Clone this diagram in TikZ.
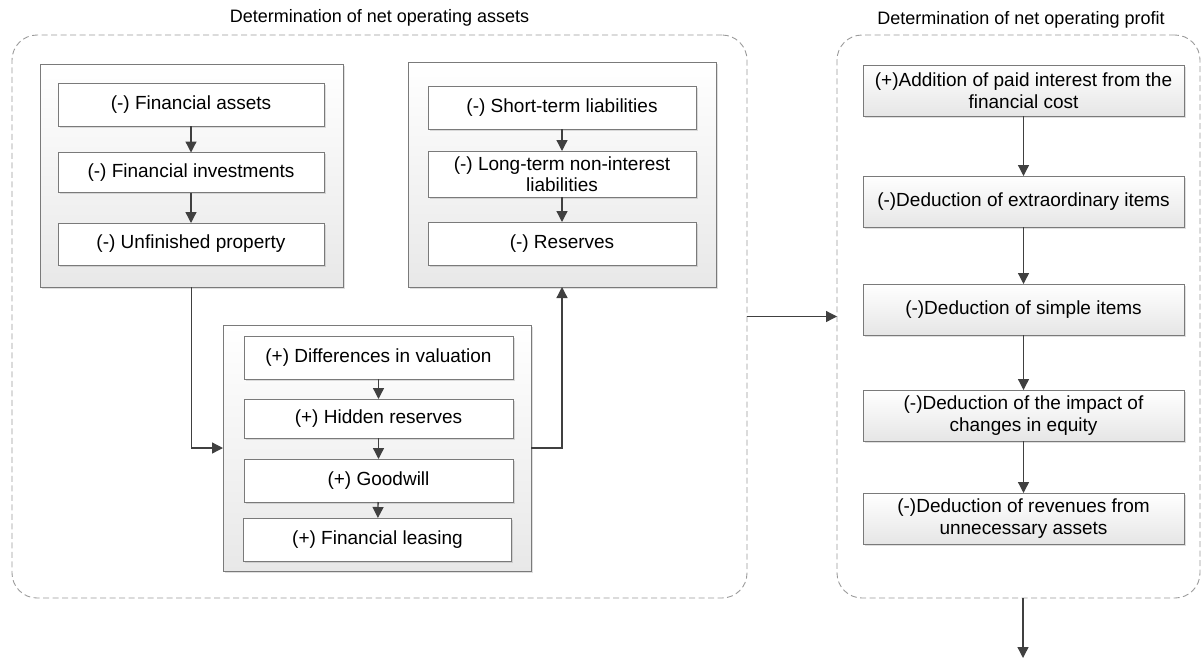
\documentclass[tikz,border=0pt]{standalone}
\usepackage{fontspec}
\setmainfont{Liberation Sans}
\usetikzlibrary{arrows.meta,shadows}
\definecolor{linec}{HTML}{404040}
\definecolor{borderc}{HTML}{7A7A7A}
\definecolor{dashc}{HTML}{9A9A9A}
\begin{document}
\begin{tikzpicture}[x=1pt,y=-1pt,
  every node/.style={inner sep=0pt, outer sep=0pt},
  txt/.style={font=\fontsize{19}{21.5}\selectfont, align=center, text=black},
  ttl/.style={font=\fontsize{18}{20}\selectfont, text=black},
  grp/.style={draw=borderc, line width=0.9pt, top color=white, bottom color=black!9,
    drop shadow={opacity=0.25, shadow xshift=1.5pt, shadow yshift=-1.5pt}},
  ibox/.style={txt, draw=borderc, line width=0.9pt, fill=white,
    drop shadow={opacity=0.25, shadow xshift=1.5pt, shadow yshift=-1.5pt}},
  rbox/.style={txt, draw=borderc, line width=0.9pt, top color=white, bottom color=black!10,
    minimum width=321pt, minimum height=51pt,
    drop shadow={opacity=0.25, shadow xshift=1.5pt, shadow yshift=-1.5pt}},
  dbox/.style={draw=dashc, line width=0.9pt, dash pattern=on 6pt off 3.5pt, rounded corners=25pt},
  arr/.style={draw=linec, line width=1.3pt, -{Triangle[length=11pt,width=11pt]}, color=linec},
]
\useasboundingbox (0,0) rectangle (1204,659);

% dashed containers
\node[dbox, minimum width=735pt, minimum height=563pt] (L) at (379.5,316.5) {};
\node[dbox, minimum width=363pt, minimum height=563pt] (R) at (1018.5,316.5) {};
\node[ttl] (tl) at (379.5,18) {Determination of net operating assets};
\node[ttl] (tr) at (1021,20) {Determination of net operating profit};

% group A
\node[grp, minimum width=303pt, minimum height=223pt] (ga) at (191.5,175.5) {};
\node[ibox, minimum width=266pt, minimum height=43pt] (a1) at (191,104.5) {(-) Financial assets};
\node[ibox, minimum width=266pt, minimum height=40pt] (a2) at (191,172.5) {(-) Financial investments};
\node[ibox, minimum width=266pt, minimum height=42pt] (a3) at (191,244) {(-) Unfinished property};
\draw[arr] (a1) -- (a2);
\draw[arr] (a2) -- (a3);

% group B
\node[grp, minimum width=308pt, minimum height=225pt] (gb) at (562,174.5) {};
\node[ibox, minimum width=268pt, minimum height=43pt] (b1) at (562,107.5) {(-) Short-term liabilities};
\node[ibox, minimum width=268pt, minimum height=46pt] (b2) at (562,174) {(-) Long-term non-interest\\liabilities};
\node[ibox, minimum width=268pt, minimum height=43pt] (b3) at (562,243.5) {(-) Reserves};
\draw[arr] (b1) -- (b2);
\draw[arr] (b2) -- (b3);

% group C
\node[grp, minimum width=308pt, minimum height=246pt] (gc) at (377,448) {};
\node[ibox, minimum width=269pt, minimum height=43pt] (c1) at (378.5,357.5) {(+) Differences in valuation};
\node[ibox, minimum width=269pt, minimum height=39pt] (c2) at (378.5,418.5) {(+) Hidden reserves};
\node[ibox, minimum width=269pt, minimum height=43pt] (c3) at (378.5,480.5) {(+) Goodwill};
\node[ibox, minimum width=268pt, minimum height=43pt] (c4) at (377.5,539.5) {(+) Financial leasing};
\draw[arr] (c1) -- (c2);
\draw[arr] (c2) -- (c3);
\draw[arr] (c3) -- (c4);

\draw[arr] (ga.south) |- (gc.west);
\draw[arr] (gc.east) -| (gb.south);

% right column
\node[rbox] (r1) at (1023.5,90.5) {(+)Addition of paid interest from the\\financial cost};
\node[rbox] (r2) at (1023.5,201.5) {(-)Deduction of extraordinary items};
\node[rbox] (r3) at (1023.5,309.5) {(-)Deduction of simple items};
\node[rbox] (r4) at (1023.5,415.5) {(-)Deduction of the impact of\\changes in equity};
\node[rbox] (r5) at (1023.5,518.5) {(-)Deduction of revenues from\\unnecessary assets};
\draw[arr] (r1) -- (r2);
\draw[arr] (r2) -- (r3);
\draw[arr] (r3) -- (r4);
\draw[arr] (r4) -- (r5);

\draw[arr] (L.east) -- (R.west);
\coordinate (endp) at (1023,658);
\draw[arr] (R.south -| endp) -- (endp);
\end{tikzpicture}
\end{document}
